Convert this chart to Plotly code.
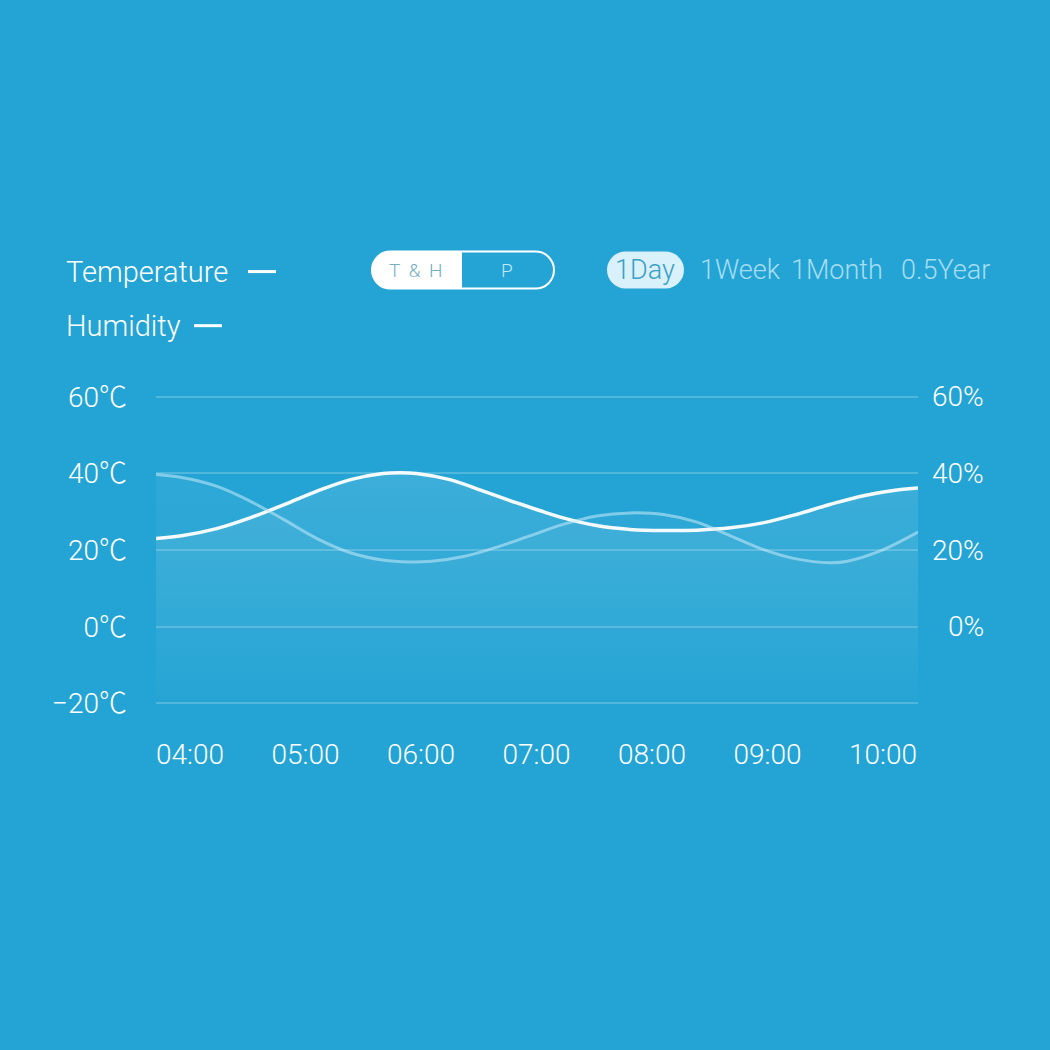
import plotly.graph_objects as go

# ---------------- data ----------------
temp_hours = [3.706, 3.94, 4.23, 4.52, 4.81, 5.10, 5.39, 5.67, 5.82, 5.96, 6.25, 6.54, 6.83,
              7.02, 7.23, 7.52, 7.81, 8.10, 8.39, 8.68, 8.96, 9.25, 9.54, 9.83, 10.12, 10.303]
temp_values = [23.0, 23.8, 25.6, 28.4, 31.8, 35.4, 38.4, 40.0, 40.2, 40.0, 38.4, 35.4, 32.3,
               30.4, 28.4, 26.4, 25.4, 25.1, 25.2, 25.8, 27.1, 29.3, 31.9, 34.2, 35.7, 36.2]

hum_hours = [3.706, 3.94, 4.23, 4.52, 4.81, 5.10, 5.39, 5.67, 5.90, 6.09, 6.38, 6.67, 6.94,
             7.23, 7.52, 7.81, 8.10, 8.39, 8.68, 8.96, 9.25, 9.54, 9.68, 9.97, 10.303]
hum_values = [39.7, 38.9, 36.7, 32.8, 28.0, 23.0, 19.3, 17.4, 16.9, 17.1, 18.4, 20.9, 23.7,
              26.7, 28.9, 29.7, 29.3, 27.3, 23.7, 20.2, 17.7, 16.7, 17.0, 19.7, 24.7]

x_tickvals = [4, 5, 6, 7, 8, 9, 10]
x_ticktext = ["04:00", "05:00", "06:00", "07:00", "08:00", "09:00", "10:00"]
temp_tickvals = [-20, 0, 20, 40, 60]
temp_ticktext = ["\u221220\u2103", "0\u2103", "20\u2103", "40\u2103", "60\u2103"]
hum_tickvals = [0, 20, 40, 60]
hum_ticktext = ["0%", "20%", "40%", "60%"]
legend_names = ["Temperature", "Humidity"]
range_options = ["1Day", "1Week", "1Month", "0.5Year"]
toggle_options = ["T &amp; H", "P"]

# ---------------- layout geometry (pixels) ----------------
W = H = 1050
L, R = 156, 918
T, B = 393.2, 710.6
X_RANGE = [3.706, 10.303]
Y_RANGE = [-22, 61]

BG = "rgb(36,164,212)"
FONT = "Roboto, 'Noto Sans CJK SC', sans-serif"


def px(xp):
    return (xp - L) / (R - L)


def py(yp):
    return (B - yp) / (B - T)


def pt(xp, yp):
    return f"{px(xp):.5f},{py(yp):.5f}"


K = 0.5523


def pill_path(x0, y0, x1, y1):
    r = (y1 - y0) / 2
    cy = (y0 + y1) / 2
    lx, rx = x0 + r, x1 - r
    return (
        f"M {pt(lx, y0)} L {pt(rx, y0)} "
        f"C {pt(rx + K * r, y0)} {pt(x1, cy - K * r)} {pt(x1, cy)} "
        f"C {pt(x1, cy + K * r)} {pt(rx + K * r, y1)} {pt(rx, y1)} "
        f"L {pt(lx, y1)} "
        f"C {pt(lx - K * r, y1)} {pt(x0, cy + K * r)} {pt(x0, cy)} "
        f"C {pt(x0, cy - K * r)} {pt(lx - K * r, y0)} {pt(lx, y0)} Z"
    )


def left_half_path(x0, y0, xm, y1):
    r = (y1 - y0) / 2
    cy = (y0 + y1) / 2
    lx = x0 + r
    return (
        f"M {pt(lx, y0)} L {pt(xm, y0)} L {pt(xm, y1)} L {pt(lx, y1)} "
        f"C {pt(lx - K * r, y1)} {pt(x0, cy + K * r)} {pt(x0, cy)} "
        f"C {pt(x0, cy - K * r)} {pt(lx - K * r, y0)} {pt(lx, y0)} Z"
    )


fig = go.Figure()

# baseline + humidity fill (y2)
fig.add_trace(go.Scatter(x=[X_RANGE[0], X_RANGE[1]], y=[Y_RANGE[0], Y_RANGE[0]],
                         mode="lines", line=dict(width=0), yaxis="y2",
                         hoverinfo="skip", showlegend=False))
fig.add_trace(go.Scatter(
    x=hum_hours, y=hum_values, name=legend_names[1], yaxis="y2",
    mode="lines", line=dict(shape="spline", smoothing=1.0, width=3,
                            color="rgba(200,235,250,0.55)"),
    fill="tonexty",
    fillgradient=dict(type="vertical", start=Y_RANGE[0], stop=40,
                      colorscale=[[0, "rgba(255,255,255,0)"], [1, "rgba(255,255,255,0.05)"]]),
    showlegend=False))

# baseline + temperature fill (y)
fig.add_trace(go.Scatter(x=[X_RANGE[0], X_RANGE[1]], y=[Y_RANGE[0], Y_RANGE[0]],
                         mode="lines", line=dict(width=0),
                         hoverinfo="skip", showlegend=False))
fig.add_trace(go.Scatter(
    x=temp_hours, y=temp_values, name=legend_names[0],
    mode="lines", line=dict(shape="spline", smoothing=1.0, width=3.5,
                            color="rgba(255,255,255,0.95)"),
    fill="tonexty",
    fillgradient=dict(type="vertical", start=Y_RANGE[0], stop=40,
                      colorscale=[[0, "rgba(255,255,255,0)"], [1, "rgba(255,255,255,0.11)"]]),
    showlegend=False))

shapes = []
annotations = []

# legend
leg_rows = [(legend_names[0], 64, 272, 248, 276), (legend_names[1], 64, 326, 194, 222)]
for name, tx, ty, lx0, lx1 in leg_rows:
    annotations.append(dict(text=name, x=px(tx), y=py(ty), xref="paper", yref="paper",
                            xanchor="left", yanchor="middle", showarrow=False,
                            font=dict(family=FONT, size=29, color="white", weight=300)))
    shapes.append(dict(type="line", xref="paper", yref="paper",
                       x0=px(lx0), x1=px(lx1), y0=py(ty), y1=py(ty),
                       line=dict(color="white", width=3)))

# toggle
shapes.append(dict(type="path", xref="paper", yref="paper",
                   path=left_half_path(372, 252, 462, 289),
                   fillcolor="white", line=dict(width=0)))
shapes.append(dict(type="path", xref="paper", yref="paper",
                   path=pill_path(372, 252, 554, 289),
                   fillcolor="rgba(0,0,0,0)", line=dict(color="white", width=2)))
annotations.append(dict(text=toggle_options[0].replace(" ", "\u2009 "), x=px(416), y=py(271),
                        xref="paper", yref="paper",
                        xanchor="center", yanchor="middle", showarrow=False,
                        font=dict(family=FONT, size=19, color="rgb(120,172,192)", weight=300)))
annotations.append(dict(text=toggle_options[1], x=px(507), y=py(271), xref="paper", yref="paper",
                        xanchor="center", yanchor="middle", showarrow=False,
                        font=dict(family=FONT, size=19, color="rgb(195,233,248)", weight=300)))

# range selector
shapes.append(dict(type="path", xref="paper", yref="paper",
                   path=pill_path(607, 252, 684, 289),
                   fillcolor="rgb(217,241,250)", line=dict(width=0)))
range_centers = [645, 740, 837, 945]
for i, (lab, cx) in enumerate(zip(range_options, range_centers)):
    col = "rgb(58,160,200)" if i == 0 else "rgb(166,221,242)"
    annotations.append(dict(text=lab, x=px(cx), y=py(270), xref="paper", yref="paper",
                            xanchor="center", yanchor="middle", showarrow=False,
                            font=dict(family=FONT, size=27, color=col, weight=300)))

# right axis labels (humidity), right aligned
for v, t in zip(hum_tickvals, hum_ticktext):
    annotations.append(dict(text=t, x=px(986), y=v, xref="paper", yref="y2",
                            xanchor="right", yanchor="middle", showarrow=False,
                            font=dict(family=FONT, size=28, color="white", weight=300)))

fig.update_layout(
    width=W, height=H,
    margin=dict(l=L, r=W - R, t=T, b=H - B, pad=0),
    paper_bgcolor=BG, plot_bgcolor=BG,
    font=dict(family=FONT, color="white", weight=300),
    showlegend=False,
    xaxis=dict(range=X_RANGE, tickvals=x_tickvals, ticktext=x_ticktext,
               showgrid=False, zeroline=False, showline=False, ticks="",
               ticklabelstandoff=24,
               tickfont=dict(family=FONT, size=28, color="white", weight=300)),
    yaxis=dict(range=Y_RANGE, tickvals=temp_tickvals, ticktext=temp_ticktext,
               showgrid=True, gridcolor="rgba(255,255,255,0.2)", gridwidth=2,
               zeroline=False, showline=False, ticks="",
               ticklabelstandoff=28,
               tickfont=dict(family=FONT, size=28, color="white", weight=300)),
    yaxis2=dict(range=Y_RANGE, overlaying="y", side="right", showgrid=False,
                zeroline=False, showline=False, showticklabels=False, ticks=""),
    shapes=shapes,
    annotations=annotations,
)

fig.write_html("out.html")
